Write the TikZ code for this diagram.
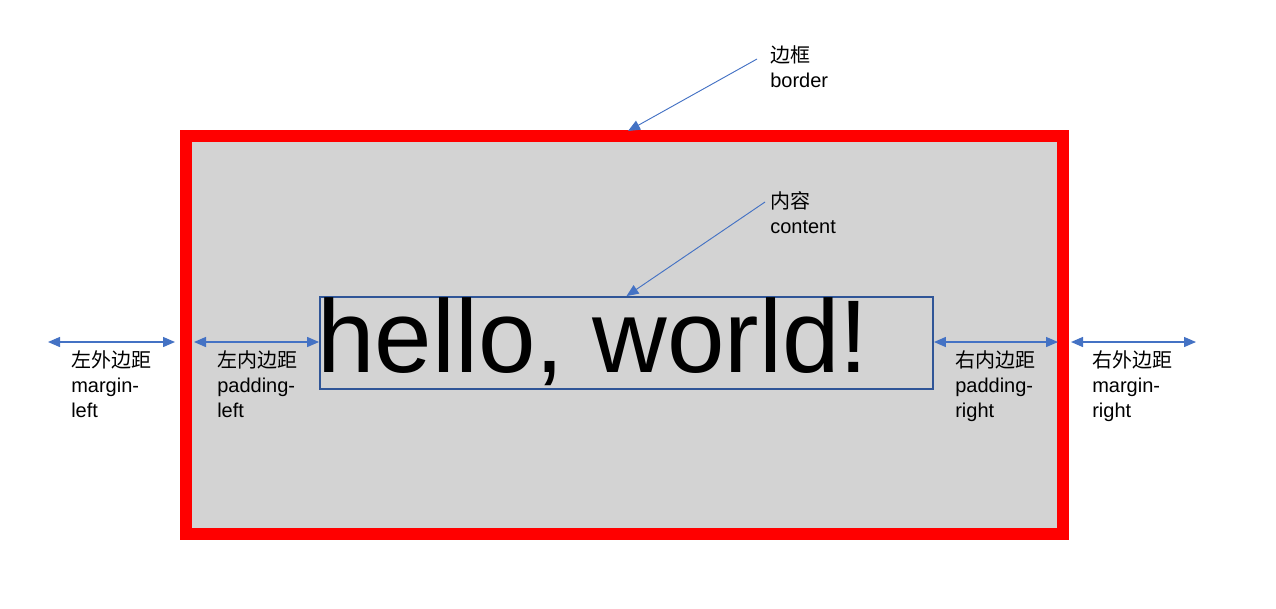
\documentclass[tikz,border=0pt]{standalone}
\usepackage{fontspec}
\setmainfont{Liberation Sans}
\newfontfamily\cjk{Noto Sans CJK SC}
\usetikzlibrary{arrows.meta}
\definecolor{boxred}{RGB}{255,0,0}
\definecolor{boxgray}{RGB}{211,211,211}
\definecolor{arrowblue}{RGB}{68,114,196}
\definecolor{contentblue}{RGB}{47,85,151}
\tikzset{
  dimline/.style={arrowblue, line width=1pt, {Triangle[width=7.5pt,length=9pt]}-{Triangle[width=7.5pt,length=9pt]}},
  callout/.style={arrowblue, line width=0.7pt, -{Triangle[width=7.5pt,length=9pt]}},
  boxlabel/.style={anchor=north west, inner sep=0pt, align=left, font=\fontsize{15}{18.75}\selectfont},
}
\begin{document}
\begin{tikzpicture}[x=0.75pt,y=-0.75pt]
\useasboundingbox (0,0) rectangle (1276,608);
% border and content box
\node[draw=boxred, fill=boxgray, line width=9pt, minimum width=657.75pt, minimum height=298.5pt, inner sep=0pt] (frame) at (624.5,335) {};
\node[draw=contentblue, line width=1.4pt, minimum width=459.75pt, minimum height=69pt, inner sep=0pt] (content) at (626.5,343) {};
\node[anchor=base west, inner sep=0pt, font=\fontsize{77.5}{80}\selectfont] (hello) at (317,372) {hello, world!};

% margin / padding arrows
\coordinate (ml-a) at (48,342);
\coordinate (ml-b) at (175,342);
\coordinate (pl-a) at (194,342);
\coordinate (pr-b) at (1058,342);
\coordinate (mr-a) at (1071,342);
\coordinate (mr-b) at (1196,342);
\draw[dimline] (ml-a) -- (ml-b);
\draw[dimline] (pl-a) -- (content.west |- pl-a);
\draw[dimline] (content.east |- pr-b) -- (pr-b);
\draw[dimline] (mr-a) -- (mr-b);

\node[boxlabel] (ml-label) at (71,350) {{\cjk 左外边距}\\margin-\\left};
\node[boxlabel] (pl-label) at (217,350) {{\cjk 左内边距}\\padding-\\left};
\node[boxlabel] (pr-label) at (955,350) {{\cjk 右内边距}\\padding-\\right};
\node[boxlabel] (mr-label) at (1092,350) {{\cjk 右外边距}\\margin-\\right};

% callouts
\node[boxlabel] (border-label) at (770,45) {{\cjk 边框}\\border};
\node[boxlabel] (content-label) at (770,191) {{\cjk 内容}\\content};
\coordinate (border-from) at (757,59);
\coordinate (border-tip) at (628,131);
\coordinate (content-from) at (765,202);
\draw[callout] (border-from) -- (border-tip);
\draw[callout] (content-from) -- (content.north);
\end{tikzpicture}
\end{document}
